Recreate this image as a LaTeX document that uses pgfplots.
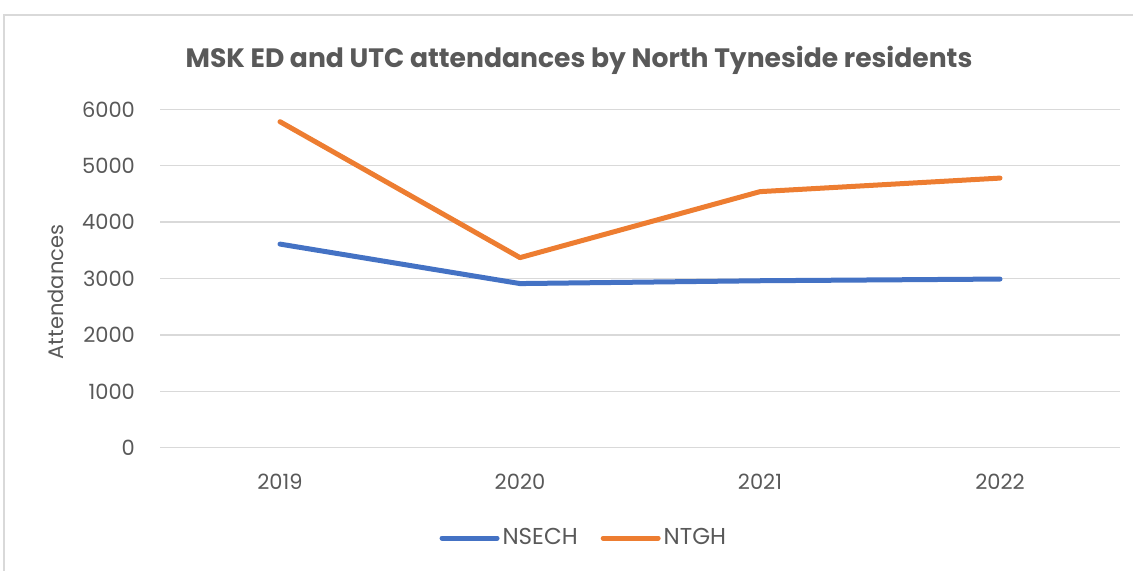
\documentclass[border=0pt]{standalone}
\usepackage{pgfplots}
\pgfplotsset{compat=1.18}
\usepackage{fontspec}
\setmainfont{Poppins}
\definecolor{txt}{HTML}{595959}
\definecolor{gridc}{HTML}{D9D9D9}
\definecolor{sblue}{HTML}{4472C4}
\definecolor{sorange}{HTML}{ED7D31}
\begin{document}
\begin{tikzpicture}
\useasboundingbox (0,0) rectangle (566.5pt,285.5pt);
\draw[gridc, line width=0.7pt] (2pt,0pt) -- (2pt,278pt) -- (566.5pt,278pt);
\node[text=txt, font=\fontsize{13.3}{16}\selectfont\bfseries] at (289.5pt,255.5pt) {MSK ED and UTC attendances by North Tyneside residents};
\begin{axis}[
  at={(80pt,61.65pt)}, anchor=south west,
  scale only axis, width=480pt, height=169.2pt,
  xmin=-0.5, xmax=3.5, ymin=0, ymax=6000,
  xtick={0,1,2,3}, xticklabels={2019,2020,2021,2022},
  ytick={0,1000,2000,3000,4000,5000,6000},
  ymajorgrids, grid style={gridc, line width=0.75pt},
  axis line style={draw=none}, major tick length=0pt,
  tick label style={text=txt, font=\fontsize{10.5}{12}\selectfont},
  /pgf/number format/assume math mode=true,
  yticklabel style={xshift=-9pt},
  xticklabel style={yshift=-9.5pt},
  scaled y ticks=false,
  yticklabel={\pgfmathprintnumber[fixed,1000 sep={}]{\tick}},
  ylabel={Attendances},
  ylabel style={at={(axis description cs:-0.109,0.46)}, anchor=center, text=txt, font=\fontsize{10.5}{12}\selectfont},
  legend columns=2,
  legend style={at={(0.442,-0.267)}, anchor=center, draw=none, fill=none, text=txt, font=\fontsize{11.5}{13}\selectfont,
    nodes={inner xsep=1.5pt},
    /tikz/every even column/.append style={column sep=10pt}},
  legend cell align=left,
  legend image code/.code={\draw[#1, line cap=round] (0pt,0pt) -- (27.5pt,0pt);},
]
\addplot[sblue, line width=2.5pt, line cap=round, line join=round, mark=none] coordinates {(0,3610) (1,2910) (2,2960) (3,2990)};
\addlegendentry{NSECH}
\addplot[sorange, line width=2.5pt, line cap=round, line join=round, mark=none] coordinates {(0,5780) (1,3370) (2,4540) (3,4780)};
\addlegendentry{NTGH}
\end{axis}
\end{tikzpicture}
\end{document}
